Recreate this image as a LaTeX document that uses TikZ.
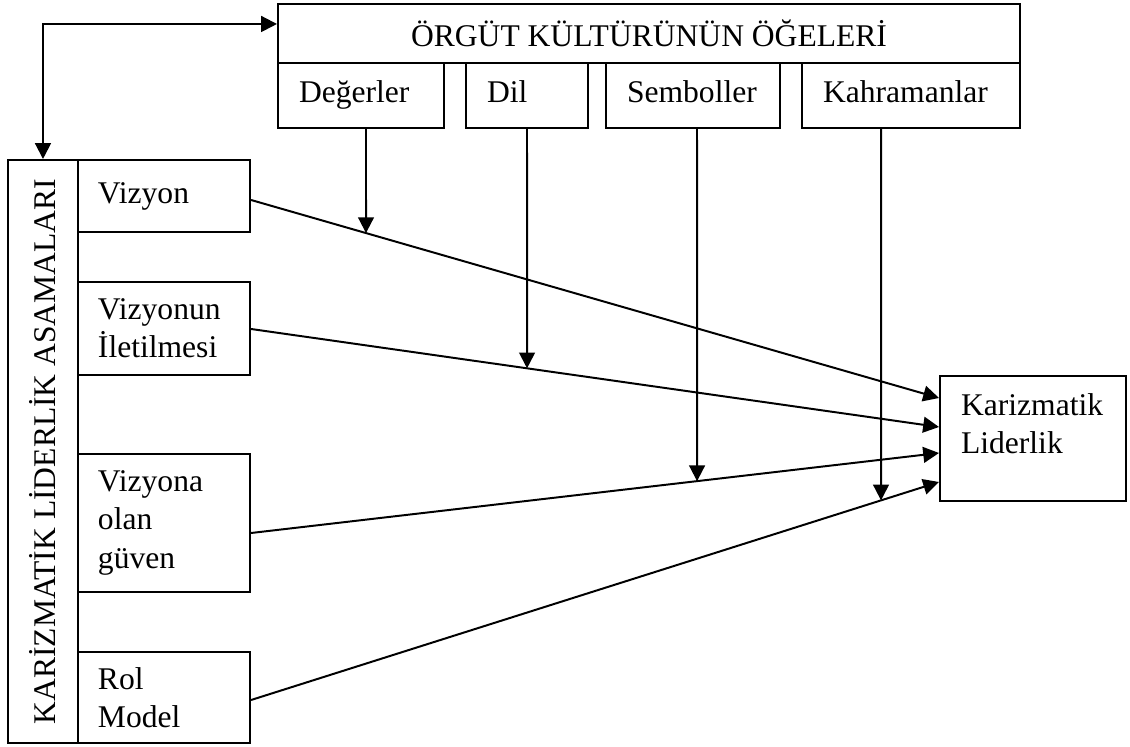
\documentclass[tikz,border=0pt]{standalone}
\usepackage{fontspec}
\setmainfont{Liberation Serif}
\usetikzlibrary{arrows.meta, calc}

\tikzset{
  box/.style     = {draw, rectangle, anchor=north west, line width=0.75pt,
                    inner ysep=0pt, font=\fontsize{12}{14.6}\selectfont},
  headbox/.style = {box, minimum width=282pt, minimum height=22.4pt},
  elem/.style    = {box, minimum height=24.7pt, inner xsep=8pt,
                    align=left, text height=8.3pt, text depth=2.6pt},
  stage/.style   = {box, inner xsep=7.6pt, text width=50.2pt, align=left},
  arr/.style     = {-{Triangle[length=6pt,width=6pt]}, line width=0.75pt},
  arr2/.style    = {{Triangle[length=6pt,width=6pt]}-{Triangle[length=6pt,width=6pt]},
                    line width=0.75pt},
}

\begin{document}
\begin{tikzpicture}[x=0.38pt, y=-0.38pt]

% ── canvas: coordinates are pixels of the 1130 x 747 layout ─
\useasboundingbox (0,0) rectangle (1130,747);

% ═══════════════════════════════════════════════════════════
%  ÖRGÜT KÜLTÜRÜ (top)
% ═══════════════════════════════════════════════════════════
\node[headbox] (headb) at (277,3) {ÖRGÜT KÜLTÜRÜNÜN ÖĞELERİ};

\node[elem, text width=47.1pt] (deg) at (277,62) {Değerler};
\node[elem, text width=30.4pt] (dil) at (465,62) {Dil};
\node[elem, text width=50.1pt] (sem) at (605,62) {Semboller};
\node[elem, text width=66.8pt] (kah) at (801,62) {Kahramanlar};

% ═══════════════════════════════════════════════════════════
%  AŞAMALAR (left column)
% ═══════════════════════════════════════════════════════════
\node[box, minimum width=26.6pt, minimum height=221.5pt, inner sep=0pt] (lbl)
  at (7,159) {\rotatebox{90}{KARİZMATİK LİDERLİK ASAMALARI}};

\node[stage, minimum height=27.4pt] (viz)  at (77,159) {Vizyon};
\node[stage, minimum height=35.3pt] (ilet) at (77,281) {Vizyonun\\İletilmesi};
\node[stage, minimum height=52.4pt] (guv)  at (77,453) {Vizyona\\olan\\güven};
\node[stage, minimum height=34.6pt] (rol)  at (77,651) {Rol\\Model};

% ═══════════════════════════════════════════════════════════
%  SONUÇ (right)
% ═══════════════════════════════════════════════════════════
\node[box, minimum width=70.7pt, minimum height=47.5pt, inner xsep=8pt] (kariz)
  at (939,375) {\parbox[t][34.2pt][t]{54.7pt}{Karizmatik\\Liderlik}};

% ── connector ends ──────────────────────────────────────────
\coordinate (s1) at (viz.east  |- 0,200);
\coordinate (s2) at (ilet.east |- 0,329);
\coordinate (s3) at (guv.east  |- 0,533);
\coordinate (s4) at (rol.east  |- 0,700);

\coordinate (k1) at (kariz.west |- 0,398);
\coordinate (k2) at (kariz.west |- 0,427);
\coordinate (k3) at (kariz.west |- 0,453);
\coordinate (k4) at (kariz.west |- 0,482);

% ── connectors ──────────────────────────────────────────────
\draw[arr2] (lbl.north) |- ([yshift=3.6pt]headb.west);

\draw[arr] (s1) -- (k1);
\draw[arr] (s2) -- (k2);
\draw[arr] (s3) -- (k3);
\draw[arr] (s4) -- (k4);

\draw[arr] (366,0 |- deg.south) -- (intersection of 366,0--366,1 and s1--k1);
\draw[arr] (527,0 |- dil.south) -- (intersection of 527,0--527,1 and s2--k2);
\draw[arr] (697,0 |- sem.south) -- (intersection of 697,0--697,1 and s3--k3);
\draw[arr] (881,0 |- kah.south) -- (intersection of 881,0--881,1 and s4--k4);

\end{tikzpicture}
\end{document}
